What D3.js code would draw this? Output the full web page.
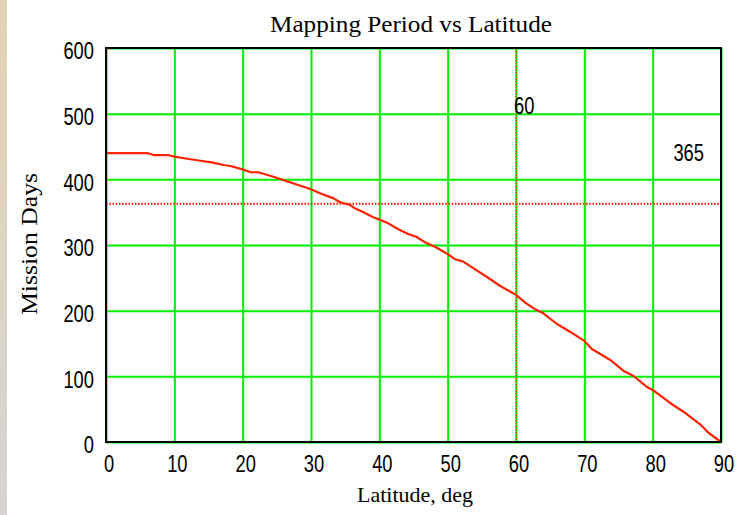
<!DOCTYPE html>
<html>
<head>
<meta charset="utf-8">
<script src="https://cdn.jsdelivr.net/npm/d3@7"></script>
<style>
  html, body { margin: 0; padding: 0; background: #fff; }
  svg { display: block; }
</style>
</head>
<body>
<svg id="chart" width="736" height="515"></svg>
<script>
// Data
const latitude = [0, 6, 7, 9, 10, 11.9, 13.8, 15.5, 17.2, 18.2, 20, 21.1, 22.3, 24.5, 26.9, 30, 31.3, 33.3, 34.2, 35.7, 36.4, 37.7, 39.1, 40, 41.3, 42.8, 44.2, 45.4, 46.7, 48.4, 50, 51.1, 52.3, 53.8, 55.7, 57.7, 60, 61.3, 62.8, 64, 66, 67.9, 70, 71.1, 73.8, 75.7, 77.2, 79.1, 80, 82.5, 84.5, 86.9, 88.1, 90];
const missionDays = [440, 440, 437, 437, 434.5, 431.4, 428.3, 425.9, 421.8, 420.3, 415.2, 411.1, 410.7, 404, 395.5, 384.8, 378.7, 371, 365.5, 361, 355.9, 349.8, 342.2, 339, 333, 323.9, 316.7, 312.6, 304, 295.9, 286.3, 278.2, 274.6, 264.5, 251.7, 237.6, 224, 212.7, 202, 196, 179.7, 168, 154, 141.6, 124.9, 108.6, 100.5, 84.2, 79.2, 59.8, 46.1, 27.4, 14.8, 0];
const xTicks = [0, 10, 20, 30, 40, 50, 60, 70, 80, 90];
const yTicks = [0, 100, 200, 300, 400, 500, 600];
const markerLatitude = [60];
const markerDays = [363];
const markerLatLabel = ["60"];
const markerDaysLabel = ["365"];
const title = "Mapping Period vs Latitude";
const xTitle = "Latitude, deg";
const yTitle = "Mission Days";

const svg = d3.select("#chart");
const L = 106, R = 721, T = 48, B = 442;
const x = d3.scaleLinear().domain([0, 90]).range([L, R]);
const y = d3.scaleLinear().domain([0, 600]).range([B, T]);

// left decorative strip
const defs = svg.append("defs");
const grad = defs.append("linearGradient").attr("id", "strip").attr("x1", 0).attr("y1", 0).attr("x2", 0).attr("y2", 1);
grad.append("stop").attr("offset", "0%").attr("stop-color", "#e3d3b5");
grad.append("stop").attr("offset", "100%").attr("stop-color", "#d6d3d1");
svg.append("rect").attr("x", 0).attr("y", 0).attr("width", 7).attr("height", 515).attr("fill", "url(#strip)");

const tickFont = "'Liberation Sans', Arial, sans-serif";
const serif = "'Liberation Serif', 'DejaVu Serif', serif";
const digitW = 10.2;
function narrow(sel) {
  sel.attr("font-family", tickFont).attr("font-size", 24).attr("fill", "#000")
    .attr("textLength", function() { return this.textContent.length * digitW; })
    .attr("lengthAdjust", "spacingAndGlyphs");
}

// grid
const gx = svg.append("g").attr("transform", `translate(0,${B})`)
  .call(d3.axisBottom(x).tickValues(xTicks).tickSize(-(B - T)).tickFormat(""));
gx.select(".domain").remove();
gx.selectAll("line").attr("stroke", "#00f000").attr("stroke-width", 2);
const gy = svg.append("g").attr("transform", `translate(${L},0)`)
  .call(d3.axisLeft(y).tickValues(yTicks).tickSize(-(R - L)).tickFormat(""));
gy.select(".domain").remove();
gy.selectAll("line").attr("stroke", "#00f000").attr("stroke-width", 2);

// marker lines
svg.selectAll(".vmark").data(markerLatitude).join("line")
  .attr("x1", d => x(d)).attr("x2", d => x(d)).attr("y1", T).attr("y2", B)
  .attr("stroke", "#ff2a00").attr("stroke-width", 1.4).attr("stroke-dasharray", "1.5 1.5");
svg.selectAll(".hmark").data(markerDays).join("line")
  .attr("x1", L).attr("x2", R).attr("y1", d => y(d)).attr("y2", d => y(d))
  .attr("stroke", "#ff2000").attr("stroke-width", 2).attr("stroke-dasharray", "1.6 1.6");

// curve
const line = d3.line().x((d, i) => x(latitude[i])).y(d => y(d));
svg.append("path").datum(missionDays).attr("d", line)
  .attr("fill", "none").attr("stroke", "#ff2200").attr("stroke-width", 2.2).attr("stroke-linejoin", "round");

// frame
svg.append("rect").attr("x", L).attr("y", T).attr("width", R - L).attr("height", B - T)
  .attr("fill", "none").attr("stroke", "#000").attr("stroke-width", 2);

// tick labels via axes
const ax = svg.append("g").attr("transform", `translate(2.5,${B})`)
  .call(d3.axisBottom(x).tickValues(xTicks).tickSize(0).tickPadding(13).tickFormat(d3.format("d")));
ax.select(".domain").remove();
ax.selectAll("text").call(narrow);

const ay = svg.append("g").attr("transform", `translate(${L},3)`)
  .call(d3.axisLeft(y).tickValues(yTicks).tickSize(0).tickPadding(12).tickFormat(d3.format("d")));
ay.select(".domain").remove();
ay.selectAll("text").call(narrow);

// marker labels
svg.selectAll(".vlab").data(markerLatitude).join("text")
  .attr("x", d => x(d) - 2).attr("y", 114)
  .text((d, i) => markerLatLabel[i]).call(narrow);
svg.selectAll(".hlab").data(markerDays).join("text")
  .attr("x", 704).attr("y", 161).attr("text-anchor", "end")
  .text((d, i) => markerDaysLabel[i]).call(narrow);

// titles
svg.append("text").attr("x", 270).attr("y", 32)
  .attr("font-family", serif).attr("font-size", 23)
  .attr("textLength", 282).attr("lengthAdjust", "spacingAndGlyphs").text(title);
svg.append("text").attr("x", 357).attr("y", 502)
  .attr("font-family", serif).attr("font-size", 21)
  .attr("textLength", 116).attr("lengthAdjust", "spacingAndGlyphs").text(xTitle);
svg.append("text").attr("transform", "translate(37,315) rotate(-90)")
  .attr("font-family", serif).attr("font-size", 24)
  .attr("textLength", 142).attr("lengthAdjust", "spacingAndGlyphs").text(yTitle);
</script>
</body>
</html>
